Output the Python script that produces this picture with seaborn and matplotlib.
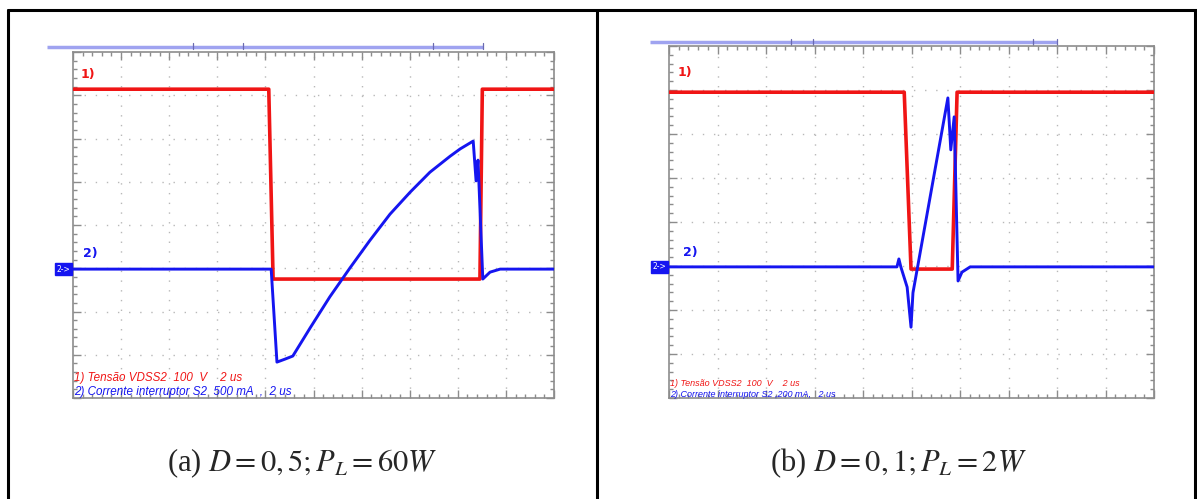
"""
Two oscilloscope captures (VDS and switch current of S2) side by side,
laid out like the table in the original document.
"""

import numpy as np
import pandas as pd
import matplotlib
matplotlib.use("Agg")
import matplotlib.pyplot as plt
import seaborn as sns
from matplotlib.lines import Line2D
from matplotlib.ticker import MultipleLocator

RED = "#f01515"
BLUE = "#1515f0"
GRID = "#b8b8b8"
FRAME = "#8c8c8c"
MARKER_BAR = "#9fa3f0"

# traces, in screen divisions (10 x 8)
T_RED_A = [0.0, 4.07, 4.16, 8.46, 8.51, 10.0]
V_RED_A = [7.14, 7.14, 2.75, 2.75, 7.14, 7.14]

T_BLUE_A = [0.0, 4.12, 4.24, 4.41, 4.57, 4.93, 5.34, 5.76, 6.17, 6.59, 7.01,
            7.42, 7.84, 8.05, 8.32, 8.38, 8.42, 8.52, 8.67, 8.88, 10.0]
I_BLUE_A = [2.98, 2.98, 0.83, 0.90, 0.97, 1.62, 2.34, 3.01, 3.64, 4.25, 4.76,
            5.22, 5.59, 5.76, 5.94, 5.02, 5.50, 2.75, 2.91, 2.98, 2.98]

T_RED_B = [0.0, 4.85, 4.99, 5.84, 5.94, 10.0]
V_RED_B = [6.95, 6.95, 2.93, 2.93, 6.95, 6.95]

T_BLUE_B = [0.0, 4.70, 4.74, 4.78, 4.91, 4.99, 5.03, 5.75, 5.81, 5.88,
            5.96, 6.04, 6.21, 10.0]
I_BLUE_B = [2.98, 2.98, 3.16, 2.98, 2.52, 1.61, 2.39, 6.82, 5.64, 6.39,
            2.66, 2.86, 2.98, 2.98]

LEGEND_A = ["1) Tensão VDSS2  100  V    2 us",
            "2) Corrente interruptor S2  500 mA  ,  2 us"]
LEGEND_B = ["1) Tensão VDSS2  100  V    2 us",
            "2) Corrente interruptor S2 ,200 mA,   2 us"]
CAPTIONS = [r"(a) $D = 0,5; P_L = 60W$", r"(b) $D = 0,1; P_L = 2W$"]

W, H = 1197, 499


def px_box(x0, y0, x1, y1):
    return [x0 / W, 1 - y1 / H, (x1 - x0) / W, (y1 - y0) / H]


def draw_scope(ax, red, blue, legend, fs_leg, lbl1, lbl2, bar):
    ax.set_xlim(0, 10)
    ax.set_ylim(0, 8)

    for x in range(1, 10):
        ax.axvline(x, color=GRID, lw=1.0, ls=(0, (1, 6)), zorder=0)
    for y in range(1, 8):
        ax.axhline(y, color=GRID, lw=1.0, ls=(0, (1, 7)), zorder=0)

    sns.lineplot(data=red, x="t", y="v", color=RED, lw=2.6, estimator=None,
                 sort=False, ax=ax, zorder=3)
    sns.lineplot(data=blue, x="t", y="v", color=BLUE, lw=2.1, estimator=None,
                 sort=False, ax=ax, zorder=4)

    ax.xaxis.set_major_locator(MultipleLocator(1))
    ax.xaxis.set_minor_locator(MultipleLocator(0.2))
    ax.yaxis.set_major_locator(MultipleLocator(1))
    ax.yaxis.set_minor_locator(MultipleLocator(0.2))
    ax.tick_params(which="both", direction="in", top=True, right=True,
                   bottom=True, left=True, labelbottom=False, labelleft=False,
                   color=FRAME, width=1.0)
    ax.tick_params(which="major", length=6)
    ax.tick_params(which="minor", length=3)
    for s in ax.spines.values():
        s.set_color(FRAME)
        s.set_linewidth(1.2)
    ax.set_xlabel("")
    ax.set_ylabel("")

    ax.text(lbl1[0], lbl1[1], "1)", color=RED, fontsize=9, fontweight="bold",
            ha="center", va="center")
    ax.text(lbl2[0], lbl2[1], "2)", color=BLUE, fontsize=9, fontweight="bold",
            ha="center", va="center")

    ax.text(0.02, legend[0][1], legend[0][0], color=RED, fontsize=fs_leg,
            style="italic", ha="left", va="center", family="Liberation Sans")
    ax.text(0.02, legend[1][1], legend[1][0], color=BLUE, fontsize=fs_leg,
            style="italic", ha="left", va="center", family="Liberation Sans")

    # channel 2 ground marker
    ax.text(-0.06, 2.98, "2->", color="white", fontsize=5.5, ha="right",
            va="center", clip_on=False,
            bbox=dict(boxstyle="square,pad=0.2", fc=BLUE, ec=BLUE))

    # trigger / cursor bar above the screen
    y_bar, x0, x1, marks = bar
    ax.plot([x0, x1], [y_bar, y_bar], color=MARKER_BAR, lw=2.5,
            clip_on=False, solid_capstyle="butt")
    for m in marks:
        ax.plot([m, m], [y_bar - 0.06, y_bar + 0.08], color="#6a6ab0", lw=0.9,
                clip_on=False)


sns.set_theme(style="white")
plt.rcParams["font.family"] = ["DejaVu Sans"]
plt.rcParams["mathtext.fontset"] = "stix"

fig = plt.figure(figsize=(W / 100, H / 100), dpi=100)
fig.patch.set_facecolor("white")

ax_a = fig.add_axes(px_box(73, 52, 554, 398))
ax_b = fig.add_axes(px_box(669, 46, 1154, 398))

red_a = pd.DataFrame({"t": T_RED_A, "v": V_RED_A})
blue_a = pd.DataFrame({"t": T_BLUE_A, "v": I_BLUE_A})
red_b = pd.DataFrame({"t": T_RED_B, "v": V_RED_B})
blue_b = pd.DataFrame({"t": T_BLUE_B, "v": I_BLUE_B})

draw_scope(ax_a, red_a, blue_a,
           [(LEGEND_A[0], 0.46), (LEGEND_A[1], 0.14)], 8.4,
           (0.31, 7.47), (0.35, 3.35),
           (8.12, -0.54, 8.52, [2.49, 3.53, 7.48, 8.52]))
draw_scope(ax_b, red_b, blue_b,
           [(LEGEND_B[0], 0.32), (LEGEND_B[1], 0.07)], 6.5,
           (0.33, 7.39), (0.43, 3.30),
           (8.09, -0.39, 8.0, [2.52, 2.97, 7.5, 8.0]))

# table borders
for xp in [8, 597, 1195]:
    fig.add_artist(Line2D([xp / W, xp / W], [0, 1 - 10 / H],
                          transform=fig.transFigure, color="black", lw=2.2))
fig.add_artist(Line2D([8 / W, 1], [1 - 10 / H, 1 - 10 / H],
                      transform=fig.transFigure, color="black", lw=2.2))

for cx, cap in zip([302, 898], CAPTIONS):
    fig.text(cx / W, 1 - 463 / H, cap, ha="center", va="center",
             fontsize=22, family="Liberation Serif")

fig.savefig("out.png", dpi=100, facecolor="white")
plt.close(fig)
